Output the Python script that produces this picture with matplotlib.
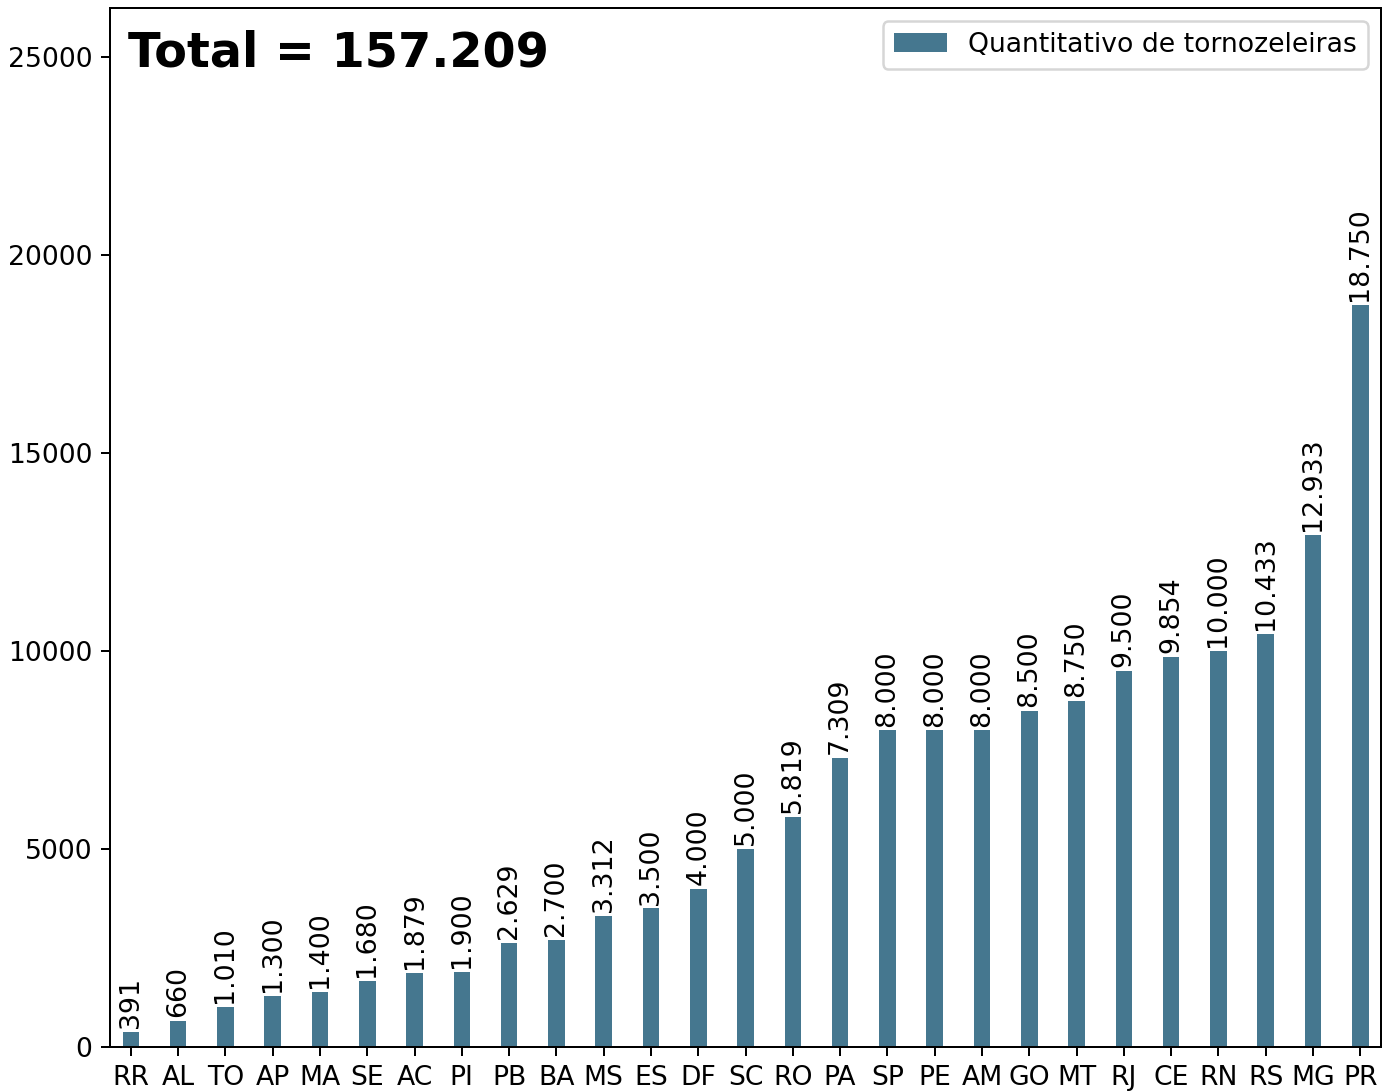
import matplotlib.pyplot as plt
import numpy as np

estados = ['RR', 'AL', 'TO', 'AP', 'MA', 'SE', 'AC', 'PI', 'PB', 'BA', 'MS', 'ES', 'DF',
           'SC', 'RO', 'PA', 'SP', 'PE', 'AM', 'GO', 'MT', 'RJ', 'CE', 'RN', 'RS', 'MG', 'PR']
tornozeleiras = [391, 660, 1010, 1300, 1400, 1680, 1879, 1900, 2629, 2700, 3312, 3500, 4000,
                 5000, 5819, 7309, 8000, 8000, 8000, 8500, 8750, 9500, 9854, 10000, 10433,
                 12933, 18750]

cor = '#45778F'


def fmt_br(v):
    return f'{v:,}'.replace(',', '.')


def main():
    fig, ax = plt.subplots(figsize=(1386 / 180, 1091 / 180), dpi=180)
    fig.subplots_adjust(left=0.0794, right=0.9964, top=0.9927, bottom=0.0403)

    x = np.arange(len(estados))
    barras = ax.bar(x, tornozeleiras, width=0.35, color=cor,
                    label='Quantitativo de tornozeleiras')
    ax.bar_label(barras, labels=[fmt_br(v) for v in tornozeleiras],
                 rotation=90, fontsize=10.7, padding=1.5)

    ax.set_xticks(x)
    ax.set_xticklabels(estados)
    ax.tick_params(labelsize=10.65)
    ax.margins(x=0.01)
    ax.set_ylim(0, max(tornozeleiras) * 1.4)

    total = sum(tornozeleiras)
    ax.text(0.014, 0.979, f'Total = {fmt_br(total)}', transform=ax.transAxes,
            fontsize=19.1, fontweight='bold', va='top', ha='left')

    ax.legend(loc='upper right', fontsize=10.65)

    fig.savefig('out.png', dpi=180)


if __name__ == '__main__':
    main()
